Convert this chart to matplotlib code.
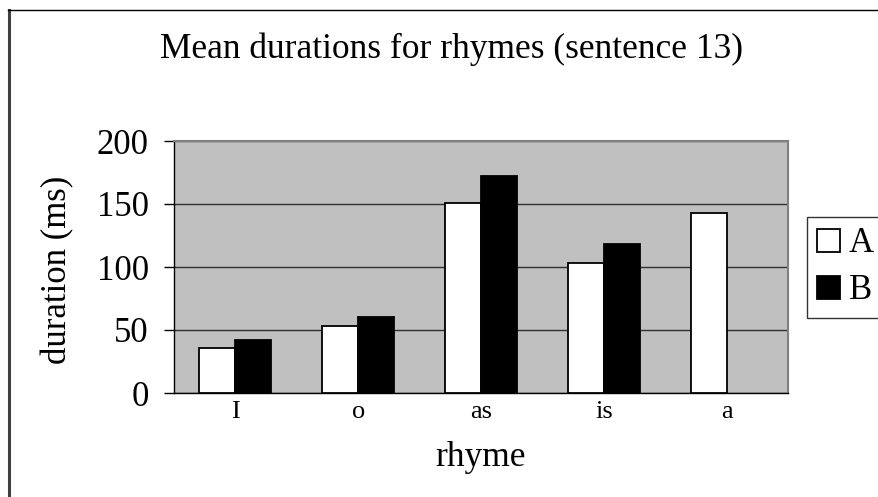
import matplotlib
matplotlib.use("Agg")
import matplotlib.pyplot as plt
from matplotlib.patches import Patch
from matplotlib.lines import Line2D
import numpy as np

rhymes = ['I', 'o', 'as', 'is', 'a']
dur_A = [36, 53, 151, 103.5, 142.5]
dur_B = [42, 60.5, 172.5, 118.5, np.nan]  # no B value for 'a'
yticks = [0, 50, 100, 150, 200]

plt.rcParams['font.family'] = ['Liberation Serif', 'DejaVu Serif']

W, H = 879, 497
fig = plt.figure(figsize=(W / 100, H / 100), dpi=100)
fig.patch.set_facecolor('white')

# plot area (pixel box 174..788 x 141..393)
ax = fig.add_axes([174 / W, 1 - 393 / H, 614 / W, 252 / H])
ax.set_facecolor('#c0c0c0')

x = np.arange(len(rhymes))
w = 0.293
ax.bar(x - w / 2, dur_A, w, color='white', edgecolor='black', linewidth=1.3, zorder=3)
ax.bar(x + w / 2, dur_B, w, color='black', edgecolor='black', linewidth=1.3, zorder=3)

ax.set_xlim(-0.5, len(rhymes) - 0.5)
ax.set_ylim(0, 200)
ax.set_yticks(yticks)
ax.set_yticklabels([str(t) for t in yticks], fontsize=25)
ax.set_xticks(x)
ax.set_xticklabels(rhymes, fontsize=19)
ax.tick_params(axis='y', direction='out', length=7, width=1, pad=11)
ax.tick_params(axis='x', length=0, pad=6)
ax.grid(axis='y', color='#303030', linewidth=1, zorder=1)
ax.set_axisbelow(True)

for s in ['top', 'right']:
    ax.spines[s].set_color('#808080')
    ax.spines[s].set_linewidth(1.5)
for s in ['left', 'bottom']:
    ax.spines[s].set_color('black')
    ax.spines[s].set_linewidth(1)

fig.text(452 / W, 1 - 49 / H, 'Mean durations for rhymes (sentence 13)',
         fontsize=25.5, ha='center', va='center')
fig.text(58 / W, 1 - 270 / H, 'duration (ms)', fontsize=25,
         rotation=90, ha='center', va='center')
fig.text(481 / W, 1 - 457 / H, 'rhyme', fontsize=25.5, ha='center', va='center')

handles = [Patch(facecolor='white', edgecolor='black', linewidth=1.3),
           Patch(facecolor='black', edgecolor='black', linewidth=1.3)]
leg = fig.legend(handles, ['A', 'B'], loc='upper left',
                 bbox_to_anchor=(807 / W, 1 - 217 / H), borderaxespad=0,
                 fontsize=25, frameon=True, fancybox=False,
                 handlelength=0.65, handleheight=0.65, handletextpad=0.25,
                 labelspacing=0.4, borderpad=0.3)
leg.get_frame().set_edgecolor('black')
leg.get_frame().set_linewidth(1)

# outer chart border (left and top visible)
fig.add_artist(Line2D([9 / W, 9 / W], [0, 1 - 10 / H], transform=fig.transFigure,
                      color='#404040', linewidth=2.2))
fig.add_artist(Line2D([8 / W, 1], [1 - 10 / H, 1 - 10 / H], transform=fig.transFigure,
                      color='black', linewidth=1))

fig.savefig('out.png', dpi=100)
